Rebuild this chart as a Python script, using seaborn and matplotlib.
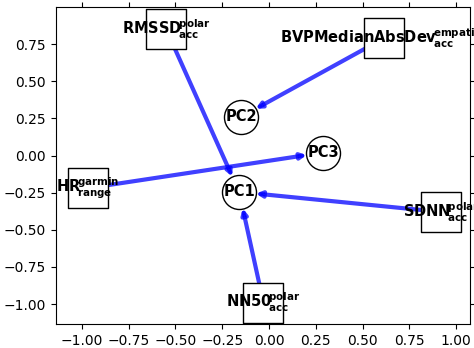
import matplotlib
matplotlib.use("Agg")
import matplotlib.pyplot as plt
import seaborn as sns
import pandas as pd

# node positions
box_names = ["RMSSD", "BVPMedianAbsDev", "HR", "SDNN", "NN50"]
box_sup = ["polar", "empatica", "garmin", "polar", "polar"]
box_sub = ["acc", "acc", "range", "acc", "acc"]
box_x = [-0.55, 0.615, -0.97, 0.92, -0.03]
box_y = [0.85, 0.79, -0.22, -0.38, -0.99]

pc_names = ["PC1", "PC2", "PC3"]
pc_x = [-0.16, -0.15, 0.29]
pc_y = [-0.245, 0.26, 0.02]

# edges: box -> pc
edge_from = ["RMSSD", "BVPMedianAbsDev", "HR", "SDNN", "NN50"]
edge_to = ["PC1", "PC2", "PC3", "PC1", "PC1"]

boxes = pd.DataFrame({"name": box_names, "x": box_x, "y": box_y})
pcs = pd.DataFrame({"name": pc_names, "x": pc_x, "y": pc_y})

sns.set_style("ticks", rc={"text.color": "black", "axes.edgecolor": "black",
                           "xtick.color": "black", "ytick.color": "black",
                           "axes.labelcolor": "black"})
plt.rcParams["mathtext.default"] = "regular"

fig = plt.figure(figsize=(4.74, 3.48), dpi=100)
ax = fig.add_axes([0.118, 0.069, 0.874, 0.911])

pos = {n: (x, y) for n, x, y in zip(box_names, box_x, box_y)}
pos.update({n: (x, y) for n, x, y in zip(pc_names, pc_x, pc_y)})

# pijler: boks -> PC
for a, b in zip(edge_from, edge_to):
    ax.annotate("", xy=pos[b], xytext=pos[a],
                arrowprops=dict(arrowstyle="-|>", color="blue", alpha=0.75,
                                lw=3, mutation_scale=8, shrinkA=0, shrinkB=12),
                zorder=1)

sns.scatterplot(data=boxes, x="x", y="y", marker="s", s=870, color="white",
                edgecolor="black", linewidth=1, ax=ax, zorder=2, legend=False)
sns.scatterplot(data=pcs, x="x", y="y", marker="o", s=600, color="white",
                edgecolor="black", linewidth=1, ax=ax, zorder=2, legend=False)

for n, sp, sb, x, y in zip(box_names, box_sup, box_sub, box_x, box_y):
    lab = n + r"$\!^{%s}_{%s}$" % (sp, sb)
    ax.text(x, y, lab, ha="center", va="center", fontsize=10.5,
            fontweight="bold", zorder=3)
for n, x, y in zip(pc_names, pc_x, pc_y):
    ax.text(x, y, n, ha="center", va="center", fontsize=10.5,
            fontweight="bold", zorder=3)

ax.set_xlim(-1.139, 1.075)
ax.set_ylim(-1.134, 1.0)
ax.set_xticks([-1.0, -0.75, -0.5, -0.25, 0.0, 0.25, 0.5, 0.75, 1.0])
ax.set_yticks([-1.0, -0.75, -0.5, -0.25, 0.0, 0.25, 0.5, 0.75])
ax.tick_params(top=True, right=True)
ax.set_xlabel("")
ax.set_ylabel("")

fig.savefig("out.png", dpi=100)
